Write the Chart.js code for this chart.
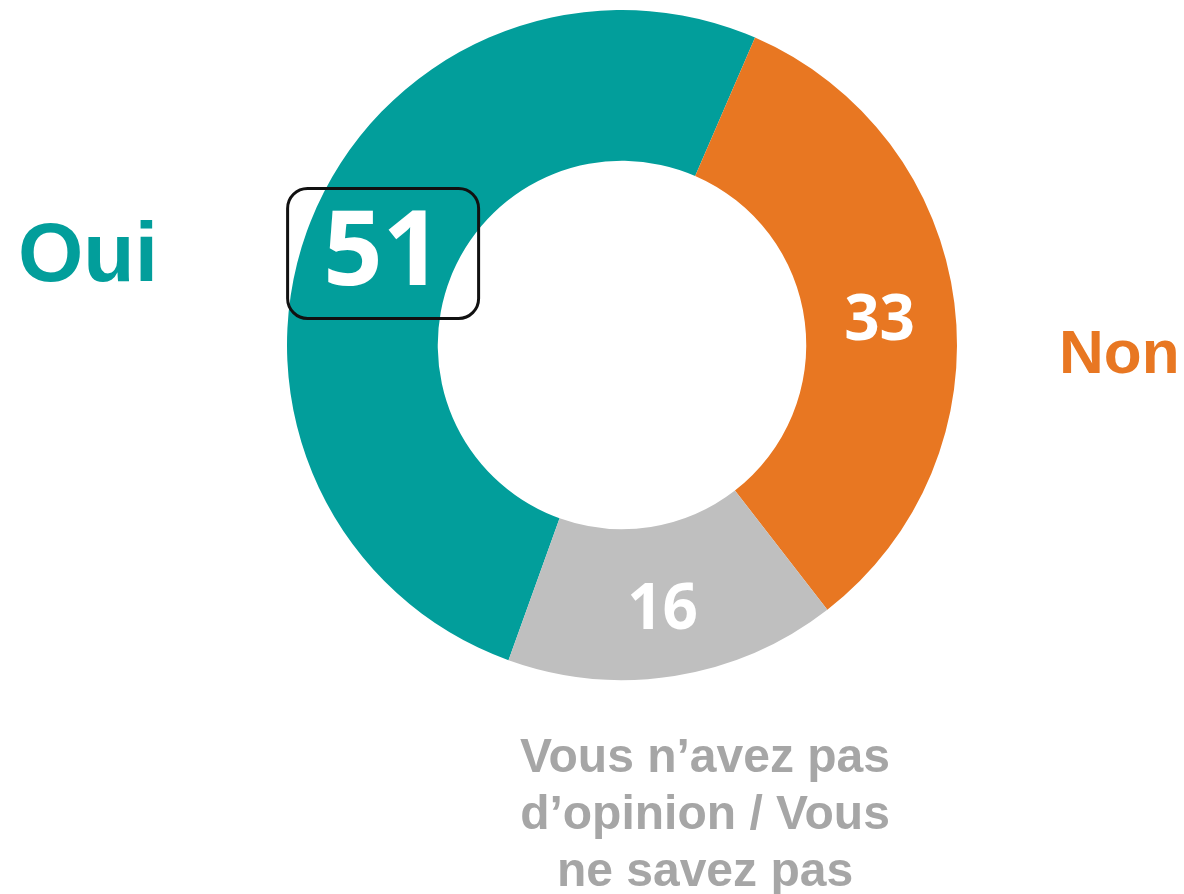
<!DOCTYPE html>
<html lang="fr">
<head>
<meta charset="utf-8">
<title>Oui / Non</title>
<script src="https://cdn.jsdelivr.net/npm/chart.js@4.4.1/dist/chart.umd.min.js"></script>
<style>
  html, body { margin: 0; padding: 0; background: #ffffff; }
  #wrap { position: relative; width: 1184px; height: 894px; }
</style>
</head>
<body>
<div id="wrap"><canvas id="chart"></canvas></div>
<script>
const categories = ["Oui", "Non", "Vous n’avez pas d’opinion / Vous ne savez pas"];
const values = [51, 33, 16];
const valueLabels = ["51", "33", "16"];
const categoryLines = [["Oui"], ["Non"], ["Vous n’avez pas", "d’opinion / Vous", "ne savez pas"]];

const palette = ["#029e9b", "#e87722", "#bfbfbf"];
const textPalette = ["#029e9b", "#e87722", "#a6a6a6"];

const LABEL_FONT = '"Liberation Sans", Arial, sans-serif';
const VALUE_FONT = '"Open Sans", "Noto Sans", sans-serif';

// values drawn at each arc's centroid, the first one boxed
const valueLabelPlugin = {
  id: "valueLabels",
  afterDatasetsDraw(chart) {
    const { ctx } = chart;
    const arcs = chart.getDatasetMeta(0).data;
    ctx.save();
    ctx.textAlign = "center";
    ctx.textBaseline = "alphabetic";
    ctx.fillStyle = "#ffffff";
    arcs.forEach((arc, i) => {
      const { x, y } = arc.tooltipPosition();
      if (i === 0) {
        ctx.font = `700 104px ${VALUE_FONT}`;
        ctx.fillText(valueLabels[i], x + 2, y + 36);
        ctx.beginPath();
        ctx.lineWidth = 3;
        ctx.strokeStyle = "#111111";
        ctx.roundRect(x - 93, y - 61, 191, 130, 20);
        ctx.stroke();
        return;
      }
      ctx.save();
      ctx.translate(x, y + 28);
      ctx.scale(1, 1.05);
      ctx.font = `700 62px ${VALUE_FONT}`;
      ctx.fillText(valueLabels[i], 0, 0);
      ctx.restore();
    });
    ctx.restore();
  },
};

// category names around the ring
const categoryLabelPlugin = {
  id: "categoryLabels",
  afterDraw(chart) {
    const { ctx } = chart;
    const arc = chart.getDatasetMeta(0).data[0];
    const cx = arc.x;
    const cy = arc.y;
    const r = arc.outerRadius;
    ctx.save();
    ctx.textBaseline = "alphabetic";

    ctx.fillStyle = textPalette[0];
    ctx.font = `700 84px ${LABEL_FONT}`;
    ctx.textAlign = "left";
    ctx.fillText(categoryLines[0][0], cx - r - 269, cy - 64);

    ctx.fillStyle = textPalette[1];
    ctx.font = `700 62px ${LABEL_FONT}`;
    ctx.fillText(categoryLines[1][0], cx + r + 102, cy + 28);

    ctx.fillStyle = textPalette[2];
    ctx.font = `700 48px ${LABEL_FONT}`;
    ctx.textAlign = "center";
    categoryLines[2].forEach((line, i) => {
      ctx.fillText(line, cx + 83, cy + r + 92 + i * 57);
    });
    ctx.restore();
  },
};

new Chart(document.getElementById("chart"), {
  type: "doughnut",
  data: {
    labels: categories,
    datasets: [
      {
        data: values,
        backgroundColor: palette,
        borderWidth: 0,
        hoverOffset: 0,
      },
    ],
  },
  options: {
    responsive: true,
    maintainAspectRatio: false,
    animation: false,
    rotation: -160.2,
    cutout: "55%",
    layout: {
      padding: { top: 10, bottom: 214, left: 287, right: 227 },
    },
    plugins: {
      legend: { display: false },
      tooltip: { enabled: false },
    },
  },
  plugins: [valueLabelPlugin, categoryLabelPlugin],
});
</script>
</body>
</html>
